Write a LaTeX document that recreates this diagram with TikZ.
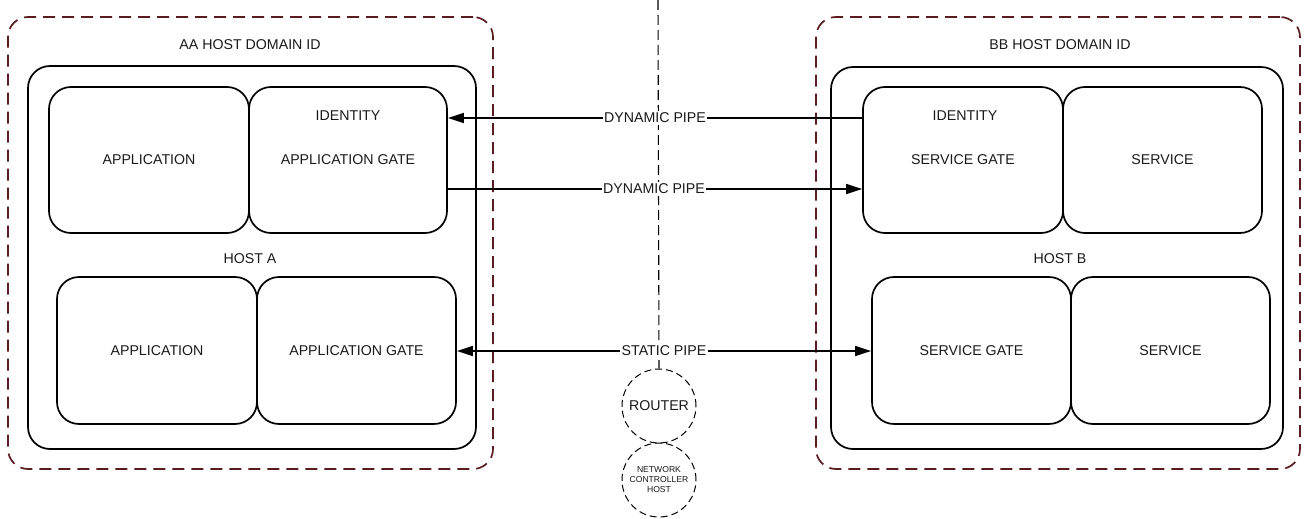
\documentclass[tikz,border=0pt]{standalone}
\usepackage{fontspec}
\setmainfont{Liberation Sans}
\usetikzlibrary{arrows.meta}
\definecolor{domred}{RGB}{90,28,32}
\definecolor{txt}{RGB}{25,25,25}
\tikzset{
  every node/.style={text=txt, font=\fontsize{14.2}{17}\selectfont},
  domain/.style={draw=domred, line width=1.7pt, dash pattern=on 12pt off 7pt, rounded corners=20pt, minimum width=#1, minimum height=452pt, inner sep=0pt},
  hostbox/.style={draw=black, line width=1.7pt, rounded corners=22pt, minimum width=#1, inner sep=0pt},
  unit/.style={draw=black, line width=1.7pt, rounded corners=22pt, minimum width=#1, minimum height=146pt, inner sep=0pt},
  plain/.style={inner sep=1pt},
  pipe/.style={line width=1.7pt, draw=black},
  tip/.style={-{Triangle[length=16pt,width=10pt]}},
  pipelabel/.style={fill=white, inner sep=1.5pt},
  ring/.style={circle, draw=black, line width=1pt, dash pattern=on 7pt off 4pt, minimum size=74pt, inner sep=0pt},
  axis/.style={draw=black, line width=1.1pt, dash pattern=on 10pt off 5pt}
}
\begin{document}
\begin{tikzpicture}[x=1pt, y=-1pt]
\useasboundingbox (0,0) rectangle (1304,519);

% domains
\node[domain=485pt] (domA) at (250.5,243) {};
\node[domain=484pt] (domB) at (1058,243) {};
\node[plain] (domAlbl) at (250,45) {AA HOST DOMAIN ID};
\node[plain] (domBlbl) at (1060,45) {BB HOST DOMAIN ID};

% hosts
\node[hostbox=448pt, minimum height=383pt] (hostA) at (252,257.5) {};
\node[hostbox=452pt, minimum height=382pt] (hostB) at (1057,258) {};
\node[plain] (hostAlbl) at (250,259) {HOST A};
\node[plain] (hostBlbl) at (1060,259) {HOST B};

% host A units
\node[unit=200pt] (appA1) at (149,160) {APPLICATION};
\node[unit=198pt] (gateA1) at (348,160) {};
\node[plain] (idA) at (348,116) {IDENTITY};
\node[plain] (gateA1lbl) at (348,160) {APPLICATION GATE};
\node[unit=200pt, minimum height=147pt] (appA2) at (157,350.5) {APPLICATION};
\node[unit=199pt, minimum height=147pt] (gateA2) at (356.5,350.5) {APPLICATION GATE};

% host B units
\node[unit=200pt] (gateB1) at (963,160) {};
\node[plain] (idB) at (965,116) {IDENTITY};
\node[plain] (gateB1lbl) at (963,160) {SERVICE GATE};
\node[unit=199pt] (svcB1) at (1162.5,160) {SERVICE};
\node[unit=199pt, minimum height=147pt] (gateB2) at (971.5,350.5) {SERVICE GATE};
\node[unit=199pt, minimum height=147pt] (svcB2) at (1170.5,350.5) {SERVICE};

% router and controller
\node[ring] (router) at (659,406) {ROUTER};
\node[ring, align=center, font=\fontsize{8.6}{10}\selectfont] (nc) at (659,480) {NETWORK\\CONTROLLER\\HOST};

% central boundary
\coordinate (topc) at (658,0);
\draw[axis] (topc) -- (router.north);

% pipes
\draw[pipe, tip] ([yshift=42pt]gateB1.west) -- node[pipelabel]{DYNAMIC PIPE} ([yshift=42pt]gateA1.east);
\draw[pipe, tip] ([yshift=-29pt,xshift=-2pt]gateA1.east) -- node[pipelabel]{DYNAMIC PIPE} ([yshift=-29pt]gateB1.west);
\draw[pipe, {Triangle[length=16pt,width=10pt]}-{Triangle[length=16pt,width=10pt]}] ([yshift=-0.5pt]gateA2.east) -- node[pipelabel]{STATIC PIPE} ([yshift=-0.5pt]gateB2.west);
\end{tikzpicture}
\end{document}
